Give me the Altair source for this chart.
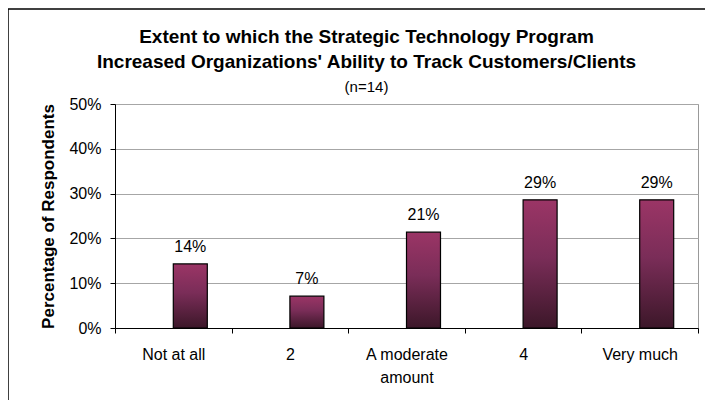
import altair as alt
import pandas as pd

categories = ["Not at all", "2", "A moderate amount", "4", "Very much"]
values = [0.143, 0.071, 0.214, 0.286, 0.286]
y_ticks = [0, 0.1, 0.2, 0.3, 0.4, 0.5]

df = pd.DataFrame({"category": categories, "value": values})

FONT = "Liberation Sans"

x_enc = alt.X(
    "category:N",
    sort=categories,
    scale=alt.Scale(paddingInner=0, paddingOuter=0),
    axis=alt.Axis(
        title=None,
        labelAngle=0,
        labelFontSize=16,
        labelColor="black",
        labelPadding=13,
        labelLineHeight=23,
        labelExpr="datum.label == 'A moderate amount' ? ['A moderate', 'amount'] : datum.label",
        tickBand="extent",
        tickColor="black",
        tickSize=5,
        domainColor="black",
        grid=False,
    ),
)

y_enc = alt.Y(
    "value:Q",
    scale=alt.Scale(domain=[0, 0.5], nice=False),
    axis=alt.Axis(
        title="Percentage of Respondents",
        titleFontSize=17,
        titleFontWeight="bold",
        titleColor="black",
        titlePadding=11,
        values=y_ticks,
        format=".0%",
        labelFontSize=16,
        labelColor="black",
        labelPadding=9,
        tickColor="black",
        tickSize=5,
        domainColor="black",
        gridColor="#a6a6a6",
        gridWidth=1,
    ),
)

gradient = alt.Gradient(
    gradient="linear",
    stops=[
        alt.GradientStop(color="#9b3566", offset=0),
        alt.GradientStop(color="#7a2d58", offset=0.45),
        alt.GradientStop(color="#3c1729", offset=1),
    ],
    x1=0, x2=0, y1=0, y2=1,
)

bars = alt.Chart(df).mark_bar(
    width=34, xOffset=17, color=gradient, stroke="black", strokeWidth=1.2
).encode(x=x_enc, y=y_enc)

labels = alt.Chart(df).mark_text(
    xOffset=17, dy=-12, baseline="alphabetic", fontSize=16, font=FONT, color="black"
).encode(x=x_enc, y=y_enc, text=alt.Text("value:Q", format=".0%"))

frame_df = pd.DataFrame({"k": [0]})
frame_top = alt.Chart(frame_df).mark_rule(color="black", strokeWidth=1.5).encode(
    x=alt.value(-107), x2=alt.value(700), y=alt.value(-95)
)
frame_left = alt.Chart(frame_df).mark_rule(color="black", strokeWidth=1.5).encode(
    x=alt.value(-107), y=alt.value(-95), y2=alt.value(400)
)

chart = alt.layer(frame_top, frame_left, bars, labels).properties(
    width=583,
    height=224,
    autosize=alt.AutoSizeParams(type="none"),
    padding={"left": 107, "top": 96, "right": 7, "bottom": 72},
    title=alt.TitleParams(
        text=["Extent to which the Strategic Technology Program",
              "Increased Organizations' Ability to Track Customers/Clients"],
        subtitle="(n=14)",
        fontSize=19,
        fontWeight="bold",
        lineHeight=25,
        subtitleFontSize=15,
        subtitleColor="black",
        subtitlePadding=8,
        color="black",
        anchor="middle",
        frame="group",
        dx=-40,
        offset=-87,
        font=FONT,
        subtitleFont=FONT,
    ),
).configure(font=FONT).configure_view(stroke="#999999", strokeWidth=1).configure_axis(
    labelFont=FONT, titleFont=FONT
)

chart.save("out.html", embed_options={"renderer": "svg", "actions": False})
